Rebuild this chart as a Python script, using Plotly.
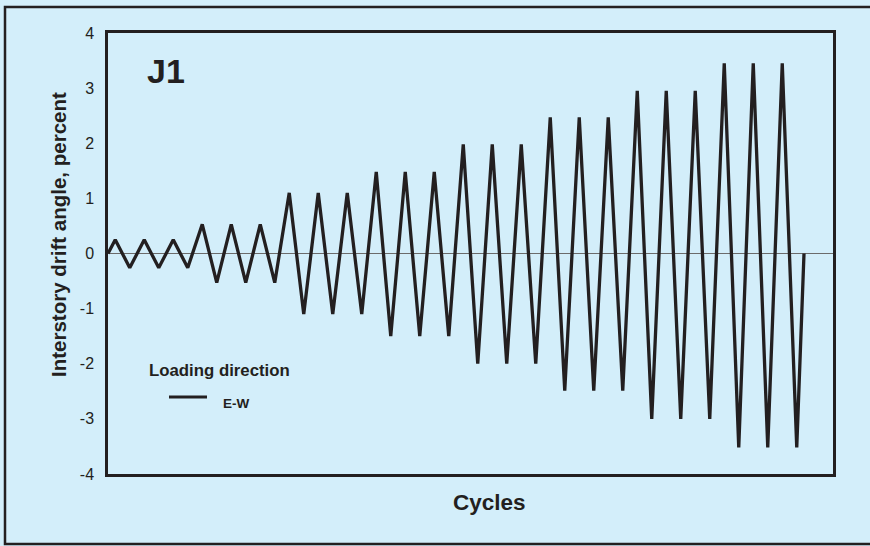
import plotly.graph_objects as go

# Peak drift (percent) for each loading level, three cycles per level
peak_pos = [0.25, 0.25, 0.25, 0.53, 0.53, 0.53, 1.1, 1.1, 1.1,
            1.48, 1.48, 1.48, 1.98, 1.98, 1.98, 2.47, 2.47, 2.47,
            2.95, 2.95, 2.95, 3.45, 3.45, 3.45]
peak_neg = [-0.26, -0.26, -0.26, -0.53, -0.53, -0.53, -1.1, -1.1, -1.1,
            -1.5, -1.5, -1.5, -2.0, -2.0, -2.0, -2.49, -2.49, -2.49,
            -3.0, -3.0, -3.0, -3.52, -3.52, -3.52]
y_ticks = [-4, -3, -2, -1, 0, 1, 2, 3, 4]

# Assemble the loading history: start at zero, alternate peaks/troughs, return to zero
drift = [0.0]
for p, n in zip(peak_pos, peak_neg):
    drift += [p, n]
drift.append(0.0)
step = [0] + [2 * i + 1 for i in range(len(drift) - 2)] + [len(drift) * 2 - 4]

BG = "#d3eefa"
INK = "#231f20"
FONT = "Liberation Sans, Arial, sans-serif"


def px(x):
    return (x - 108) / 725


def py(y):
    return (474 - y) / 441


fig = go.Figure()
fig.add_trace(go.Scatter(x=step, y=drift, mode="lines",
                         line=dict(color=INK, width=3.3), showlegend=False,
                         hoverinfo="skip"))

fig.update_layout(
    width=870, height=546,
    margin=dict(l=108, r=37, t=33, b=72),
    paper_bgcolor=BG, plot_bgcolor=BG,
    font=dict(family=FONT, color=INK),
    xaxis=dict(range=[0, 100], showticklabels=False, showgrid=False,
               zeroline=False, showline=True, linecolor=INK, linewidth=2.5,
               mirror=True, ticks=""),
    yaxis=dict(range=[-4, 4], tickvals=y_ticks, ticktext=[str(v) for v in y_ticks],
               showgrid=False, zeroline=True, zerolinecolor="#6b6b6b",
               zerolinewidth=1, showline=True, linecolor=INK, linewidth=2.5,
               mirror=True, ticks="", ticklabelstandoff=8,
               tickfont=dict(size=16, family=FONT, color=INK)),
)

# Outer frame
fig.add_shape(type="rect", xref="paper", yref="paper",
              x0=px(5), x1=px(880), y0=py(544), y1=py(7),
              line=dict(color=INK, width=2.5), layer="below")


def label(x, y, text, size, xanchor="center", angle=0):
    fig.add_annotation(xref="paper", yref="paper", x=px(x), y=py(y),
                       xanchor=xanchor, yanchor="middle", text=text,
                       textangle=angle, showarrow=False,
                       font=dict(size=size, family=FONT, color=INK))


label(58, 235, "<b>Interstory drift angle, percent</b>", 20.5, angle=-90)
label(489, 502, "<b>Cycles</b>", 22.5)
label(145, 71, "<b>J1</b>", 34, xanchor="left")
label(147, 370, "<b>Loading direction</b>", 16.8, xanchor="left")
label(221, 403, "<b>E-W</b>", 13.5, xanchor="left")

# Legend key line
fig.add_shape(type="line", xref="paper", yref="paper",
              x0=px(169), x1=px(207), y0=py(397), y1=py(397),
              line=dict(color=INK, width=3))

fig.write_html("out.html")
